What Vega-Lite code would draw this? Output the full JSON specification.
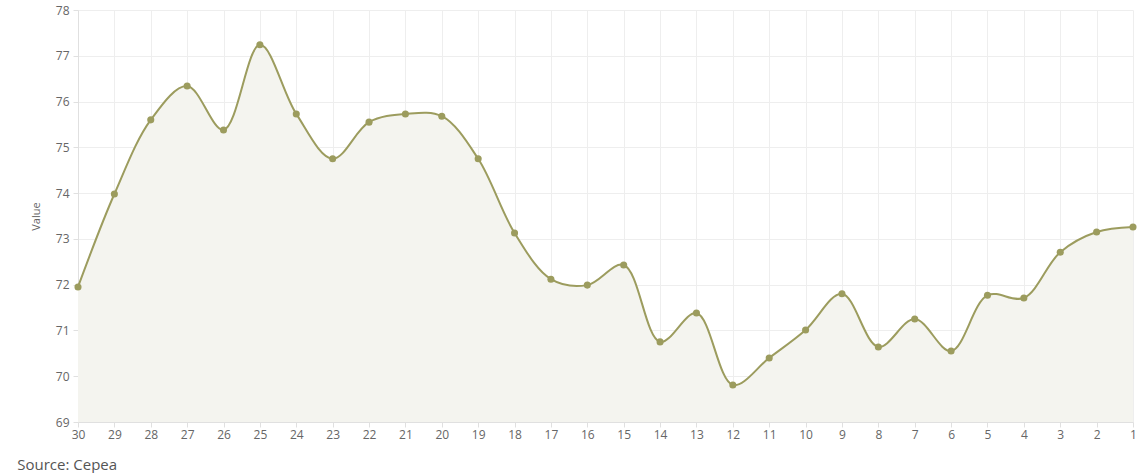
{
  "$schema": "https://vega.github.io/schema/vega-lite/v6.json",
  "autosize": {"type": "none"},
  "width": 1055,
  "height": 412,
  "padding": {"left": 78, "top": 10, "right": 15, "bottom": 51},
  "background": "white",
  "title": {
    "text": "Source: Cepea",
    "orient": "bottom",
    "anchor": "start",
    "dx": -13,
    "offset": 18,
    "font": "Open Sans",
    "fontSize": 15,
    "fontWeight": "normal",
    "color": "#555555"
  },
  "config": {
    "view": {"stroke": null},
    "axis": {
      "labelFont": "Open Sans",
      "labelFontSize": 12,
      "labelColor": "#666666",
      "labelOverlap": false,
      "gridColor": "#eeeeee",
      "gridWidth": 1,
      "domainColor": "#e0e0e0",
      "tickColor": "#e0e0e0",
      "tickSize": 5,
      "titleFont": "Open Sans",
      "titleFontSize": 11,
      "titleFontWeight": "normal",
      "titleColor": "#666666"
    }
  },
  "data": {
    "values": [
      {"day": "30", "value": 71.95},
      {"day": "29", "value": 73.98},
      {"day": "28", "value": 75.6},
      {"day": "27", "value": 76.34},
      {"day": "26", "value": 75.38},
      {"day": "25", "value": 77.24},
      {"day": "24", "value": 75.73},
      {"day": "23", "value": 74.75},
      {"day": "22", "value": 75.55},
      {"day": "21", "value": 75.73},
      {"day": "20", "value": 75.68},
      {"day": "19", "value": 74.75},
      {"day": "18", "value": 73.13},
      {"day": "17", "value": 72.12},
      {"day": "16", "value": 71.99},
      {"day": "15", "value": 72.43},
      {"day": "14", "value": 70.75},
      {"day": "13", "value": 71.38},
      {"day": "12", "value": 69.81},
      {"day": "11", "value": 70.4},
      {"day": "10", "value": 71.01},
      {"day": "9", "value": 71.8},
      {"day": "8", "value": 70.64},
      {"day": "7", "value": 71.25},
      {"day": "6", "value": 70.55},
      {"day": "5", "value": 71.77},
      {"day": "4", "value": 71.71},
      {"day": "3", "value": 72.71},
      {"day": "2", "value": 73.15},
      {"day": "1", "value": 73.26}
    ]
  },
  "encoding": {
    "x": {
      "field": "day",
      "type": "ordinal",
      "sort": null,
      "scale": {"type": "point", "padding": 0},
      "axis": {"title": null, "labelAngle": 0, "grid": true, "labelPadding": 2}
    },
    "y": {
      "field": "value",
      "type": "quantitative",
      "scale": {"domain": [69, 78], "zero": false, "nice": false},
      "axis": {"title": "Value", "values": [69,70,71,72,73,74,75,76,77,78], "grid": true, "labelPadding": 4, "titlePadding": 14}
    }
  },
  "layer": [
    {
      "mark": {"type": "area", "interpolate": "catmull-rom", "color": "#f4f4ef", "opacity": 1},
      "encoding": {"y2": {"datum": 69}}
    },
    {
      "mark": {"type": "line", "interpolate": "catmull-rom", "color": "#9c9c5e", "strokeWidth": 2}
    },
    {
      "mark": {"type": "point", "filled": true, "size": 50, "color": "#9c9c5e", "opacity": 1}
    }
  ]
}
